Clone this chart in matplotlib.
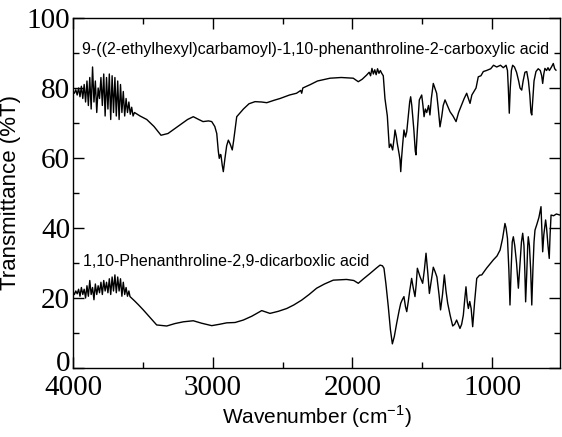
import matplotlib
matplotlib.use("Agg")
import matplotlib.pyplot as plt
import matplotlib.transforms as mtransforms
from matplotlib.ticker import MultipleLocator, FixedLocator

# --- Top spectrum: 9-((2-ethylhexyl)carbamoyl)-1,10-phenanthroline-2-carboxylic acid
top_wn = [4000, 3990, 3980, 3970, 3960, 3950, 3940, 3930, 3920, 3910, 3900, 3890, 3880, 3870,
          3860, 3850, 3840, 3830, 3820, 3810, 3800, 3790, 3780, 3770, 3760, 3750, 3740, 3730,
          3720, 3710, 3700, 3690, 3680, 3670, 3660, 3650, 3640, 3630, 3620, 3610, 3600, 3590,
          3580, 3570, 3560,
          3520, 3472, 3420, 3370, 3320, 3250, 3180, 3139, 3100, 3069, 3030, 3007, 2985, 2971,
          2960, 2953, 2945, 2941, 2932, 2924, 2912, 2900, 2888, 2875, 2860, 2850, 2840, 2828,
          2780, 2740, 2697, 2650, 2613, 2560, 2518, 2450, 2400, 2370, 2363, 2355, 2300, 2250,
          2160, 2080, 1994, 1958, 1930, 1898, 1880, 1870, 1860, 1850, 1840, 1830, 1820, 1810,
          1800, 1790, 1779, 1767, 1750, 1736, 1725, 1712, 1700, 1695, 1685, 1679, 1665, 1659,
          1654, 1648, 1640, 1631, 1620, 1611, 1600, 1590, 1583, 1575, 1560, 1550, 1545, 1535,
          1521, 1504, 1495, 1487, 1478, 1468, 1455, 1445, 1435, 1421, 1410, 1397, 1385, 1373,
          1360, 1350, 1337, 1320, 1301, 1280, 1258, 1240, 1220, 1200, 1182, 1170, 1158, 1145,
          1130, 1115, 1099, 1080, 1063, 1040, 1010, 990, 967, 940, 920, 900, 890, 884, 877,
          870, 862, 853, 840, 825, 810, 800, 788, 778, 765, 752, 740, 730, 722, 716, 710, 700,
          686, 670, 655, 645, 638, 630, 622, 610, 600, 590, 575, 562, 552, 543]
top_t = [79, 78.5, 79.5, 78, 80, 77.5, 80.5, 77, 81, 76, 82, 75, 83, 74,
         86, 76, 82, 73, 80, 77, 83, 75, 84, 72, 83, 74, 84, 71,
         83.5, 73, 83, 72, 82, 71, 81, 73, 79, 72, 77, 73, 76, 72.5,
         74.5, 72, 73,
         72, 71, 69, 66.5, 67, 69, 71, 71.8, 71, 70.4, 70.6, 70.4, 69, 67,
         62, 59.9, 61, 60.9, 58, 56.1, 60, 63.5, 65.1, 64, 62.3, 65, 68, 71.8,
         74, 75.5, 76.1, 76, 75.8, 76.5, 77, 78, 78.5, 79.3, 78.5, 80, 81, 82,
         82.8, 83, 82.8, 81.8, 82.5, 83.7, 84.5, 83.5, 85.6, 84, 85.2, 83.8, 85.5, 84.2,
         85, 84.2, 83.5, 77, 72, 63, 64, 62.3, 66, 68, 66, 64.2, 61, 59.4,
         56.1, 60, 64, 68, 66, 67.5, 72, 76, 77.5, 75, 68, 62, 60.9, 68,
         76.6, 78, 75, 71.8, 74, 73, 75, 72.3, 77, 81.3, 80, 78.5, 74, 68.9,
         72, 75, 76.6, 75, 73.2, 72, 70.4, 73, 75, 77, 78.5, 77, 75.6, 78,
         79, 80, 83.2, 83.5, 84.7, 85, 85.5, 86.5, 86, 86.5, 85.8, 86.5, 85, 80, 72.8,
         80, 85, 86.5, 86, 84.5, 82, 80, 79.4, 82, 84.5, 84.7, 82, 78, 73, 72.3, 76, 82,
         84.7, 85.5, 85, 83.5, 81.3, 84, 85.6, 85, 85.8, 85, 86, 87, 85.5, 85.1]

# --- Bottom spectrum: 1,10-Phenanthroline-2,9-dicarboxlic acid
bot_wn = [4000, 3990, 3980, 3970, 3960, 3950, 3940, 3930, 3920, 3910, 3900, 3890, 3880, 3870,
          3860, 3850, 3840, 3830, 3820, 3810, 3800, 3790, 3780, 3770, 3760, 3750, 3740, 3730,
          3720, 3710, 3700, 3690, 3680, 3670, 3660, 3650, 3640, 3630, 3620, 3610, 3600,
          3592, 3560, 3530, 3497, 3450, 3401, 3329, 3270, 3210, 3139, 3080, 3007, 2950, 2900,
          2840, 2781, 2720, 2649, 2590, 2530, 2470, 2420, 2363, 2310, 2256, 2200, 2137, 2041,
          1990, 1958, 1920, 1874, 1830, 1802, 1785, 1774, 1760, 1743, 1728, 1714, 1700, 1683,
          1665, 1654, 1643, 1631, 1620, 1611, 1600, 1590, 1576, 1565, 1552, 1543, 1535, 1516,
          1497, 1485, 1473, 1460, 1449, 1435, 1421, 1408, 1395, 1380, 1369, 1355, 1342, 1330,
          1318, 1300, 1282, 1268, 1254, 1242, 1230, 1218, 1206, 1195, 1187, 1178, 1170, 1160,
          1150, 1139, 1125, 1110, 1090, 1074, 1040, 1010, 991, 965, 943, 925, 908, 900, 890,
          880, 872, 864, 856, 848, 838, 825, 812, 800, 790, 781, 772, 766, 760, 752, 745, 741,
          733, 724, 716, 708, 700, 693, 680, 665, 650, 644, 638, 630, 617, 610, 600, 591, 585,
          578, 560, 540, 514]
bot_t = [21.8, 21, 22, 21.2, 22.5, 20.5, 23, 21, 22.5, 20, 23.5, 20.5, 25, 21,
         23, 19.5, 24, 21, 23.5, 21.5, 24.5, 21, 25, 22, 24.5, 21.5, 25.5, 21,
         26, 22, 26.6, 21.5, 26, 22, 25.5, 20.5, 24.5, 21, 23, 20.5, 22,
         20.4, 19.2, 18, 16.6, 14.5, 12.3, 12, 12.7, 13.2, 13.5, 12.8, 12.1, 12.5, 12.9,
         13, 13.7, 14.8, 16.4, 15.6, 16.2, 17, 18, 19.4, 21, 22.8, 24, 25.1, 25.3,
         25, 24.2, 25.5, 27, 28.5, 29.4, 29.2, 28.5, 24, 17.5, 11, 6.9, 9, 12.8,
         16.5, 18.5, 19.5, 20.4, 17.5, 16.1, 19, 22, 25.6, 23, 20.4, 24, 28.5, 26.1,
         24.2, 28, 32.8, 27, 21.3, 25, 28.8, 27.5, 26, 21, 16.6, 21, 26.6, 22,
         18.5, 15, 12, 12.5, 13.7, 12.5, 11.3, 12.5, 15.1, 20, 23.2, 19, 17, 19,
         17, 11.8, 19, 25.6, 26.5, 26.6, 28.5, 30, 30.9, 32, 33.7, 37, 41.3, 40, 37,
         28, 18, 28, 36, 37.5, 35, 30, 22.8, 30, 36, 38.5, 35, 28, 18.9, 27, 35, 37.5,
         35, 28, 18, 28, 36, 39.4, 41, 43, 46.1, 40, 33.2, 38, 42.3, 40, 35, 31.3, 38,
         43.7, 43.5, 44, 43.7]

top_label = "9-((2-ethylhexyl)carbamoyl)-1,10-phenanthroline-2-carboxylic acid"
bot_label = "1,10-Phenanthroline-2,9-dicarboxlic acid"
x_major = [4000, 3000, 2000, 1000]
x_minor = [3500, 2500, 1500]
y_major = [0, 20, 40, 60, 80, 100]

fig = plt.figure(figsize=(5.62, 4.37), dpi=100)
ax = fig.add_axes([73/562, 1-368/437, (560-73)/562, (368-18)/437])

ax.plot(top_wn, top_t, color="black", lw=1.0)
ax.plot(bot_wn, bot_t, color="black", lw=1.0)

ax.set_xlim(4000, 514)
ax.set_ylim(0, 100)
ax.xaxis.set_major_locator(FixedLocator(x_major))
ax.xaxis.set_minor_locator(FixedLocator(x_minor))
ax.set_yticks(y_major, [str(v) for v in y_major])
ax.yaxis.set_minor_locator(MultipleLocator(10))
ax.tick_params(which="both", direction="in", top=True, right=True, width=1.0, color="black")
ax.tick_params(which="major", length=8)
ax.tick_params(which="minor", length=4)
for s in ax.spines.values():
    s.set_linewidth(1.0)

ax.tick_params(axis="y", pad=2)
ax.tick_params(axis="x", pad=5)
for lab in ax.get_xticklabels() + ax.get_yticklabels():
    lab.set_family("Liberation Serif")
    lab.set_fontsize(21)

# raise the "0" label slightly, as in the reference
zero_lab = ax.get_yticklabels()[0]
zero_lab.set_transform(zero_lab.get_transform() +
                       mtransforms.ScaledTranslation(0, 7/100, fig.dpi_scale_trans))

ax.set_xlabel("Wavenumber (cm$^{\\mathregular{-1}}$)", family="Liberation Sans", fontsize=15, labelpad=2)
ax.set_ylabel("Transmittance (%T)", family="Liberation Sans", fontsize=16, labelpad=4)

ax.text(3936, 90.9, top_label, family="Liberation Sans", fontsize=11.5, va="center", ha="left")
ax.text(3928, 30.3, bot_label, family="Liberation Sans", fontsize=11.5, va="center", ha="left")

fig.savefig("out.png", dpi=100)
